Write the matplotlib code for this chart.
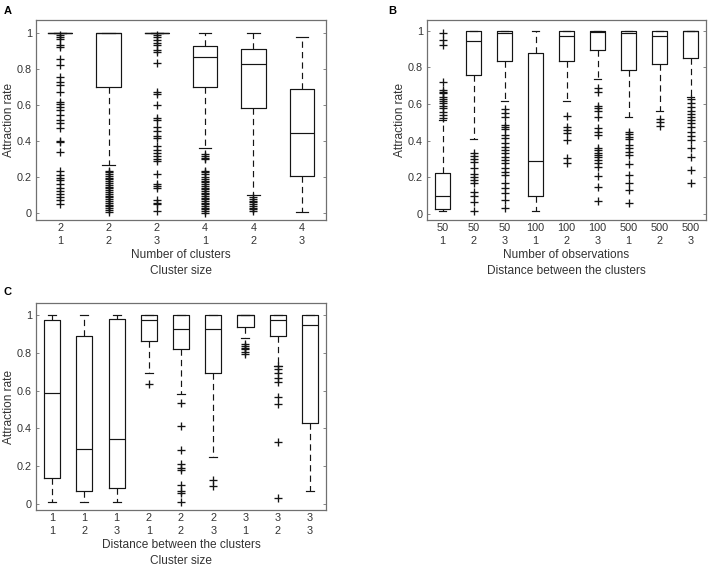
import matplotlib
matplotlib.use("Agg")
import matplotlib.pyplot as plt

plt.rcParams['font.family'] = ['Liberation Sans', 'DejaVu Sans']
plt.rcParams['lines.scale_dashes'] = False

# ---------------- Panel A ----------------
A_labels = ["2\n1", "2\n2", "2\n3", "4\n1", "4\n2", "4\n3"]
A_q1 = [1.0, 0.702, 1.0, 0.702, 0.583, 0.207]
A_med = [1.0, 1.0, 1.0, 0.870, 0.832, 0.445]
A_q3 = [1.0, 1.0, 1.0, 0.929, 0.911, 0.693]
A_wlo = [1.0, 0.266, 1.0, 0.365, 0.100, 0.007]
A_whi = [1.0, 1.0, 1.0, 1.0, 1.0, 0.981]
A_out = [
    [0.991, 0.978, 0.967, 0.935, 0.926, 0.860, 0.823, 0.758, 0.730, 0.711, 0.674,
     0.618, 0.609, 0.590, 0.572, 0.544, 0.520, 0.501, 0.475, 0.404, 0.395, 0.343,
     0.237, 0.214, 0.199, 0.184, 0.162, 0.143, 0.125, 0.106, 0.091, 0.073, 0.050],
    [0.237, 0.228, 0.219, 0.208, 0.199, 0.188, 0.178, 0.169, 0.158, 0.149, 0.139,
     0.128, 0.119, 0.109, 0.098, 0.088, 0.079, 0.068, 0.058, 0.049, 0.039, 0.029,
     0.019, 0.010],
    [0.991, 0.978, 0.963, 0.948, 0.935, 0.907, 0.898, 0.836, 0.674, 0.661, 0.600,
     0.527, 0.516, 0.479, 0.456, 0.428, 0.419, 0.372, 0.354, 0.335, 0.317, 0.304,
     0.289, 0.218, 0.162, 0.153, 0.143, 0.073, 0.060, 0.050, 0.013],
    [0.330, 0.320, 0.310, 0.300, 0.237, 0.227, 0.218, 0.200, 0.190, 0.181, 0.172,
     0.162, 0.153, 0.143, 0.134, 0.125, 0.115, 0.106, 0.097, 0.087, 0.078, 0.069,
     0.059, 0.050, 0.041, 0.031, 0.022, 0.013, 0.004],
    [0.090, 0.080, 0.071, 0.061, 0.051, 0.042, 0.032, 0.022, 0.012],
    [],
]
A_xlabel = "Number of clusters\nCluster size"

# ---------------- Panel B ----------------
B_labels = ["50\n1", "50\n2", "50\n3", "100\n1", "100\n2", "100\n3", "500\n1", "500\n2", "500\n3"]
B_q1 = [0.027, 0.758, 0.836, 0.096, 0.836, 0.895, 0.785, 0.816, 0.853]
B_med = [0.098, 0.945, 0.985, 0.291, 0.973, 0.993, 0.985, 0.971, 0.996]
B_q3 = [0.222, 1.0, 1.0, 0.880, 1.0, 1.0, 1.0, 1.0, 1.0]
B_wlo = [0.016, 0.409, 0.618, 0.016, 0.618, 0.736, 0.531, 0.562, 0.636]
B_whi = [0.513, 1.0, 1.0, 1.0, 1.0, 1.0, 1.0, 1.0, 1.0]
B_out = [
    [0.987, 0.949, 0.922, 0.722, 0.676, 0.667, 0.658, 0.640, 0.625, 0.618, 0.604,
     0.589, 0.576, 0.558, 0.540, 0.522],
    [0.331, 0.316, 0.298, 0.285, 0.253, 0.216, 0.200, 0.185, 0.171, 0.122, 0.098,
     0.065, 0.018],
    [0.571, 0.549, 0.531, 0.485, 0.476, 0.462, 0.431, 0.413, 0.385, 0.367, 0.349,
     0.335, 0.313, 0.295, 0.276, 0.249, 0.231, 0.213, 0.167, 0.140, 0.113, 0.076, 0.031],
    [],
    [0.535, 0.473, 0.458, 0.440, 0.404, 0.305, 0.278],
    [0.685, 0.667, 0.589, 0.576, 0.564, 0.531, 0.467, 0.449, 0.431, 0.358, 0.349,
     0.335, 0.322, 0.309, 0.295, 0.276, 0.258, 0.207, 0.149, 0.071],
    [0.449, 0.436, 0.422, 0.409, 0.376, 0.358, 0.340, 0.322, 0.273, 0.213, 0.167,
     0.131, 0.062],
    [0.518, 0.504, 0.480],
    [0.625, 0.607, 0.582, 0.564, 0.545, 0.531, 0.513, 0.495, 0.476, 0.449, 0.425,
     0.404, 0.358, 0.313, 0.240, 0.167],
]
B_xlabel = "Number of observations\nDistance between the clusters"

# ---------------- Panel C ----------------
C_labels = ["1\n1", "1\n2", "1\n3", "2\n1", "2\n2", "2\n3", "3\n1", "3\n2", "3\n3"]
C_q1 = [0.136, 0.071, 0.083, 0.862, 0.820, 0.693, 0.938, 0.889, 0.429]
C_med = [0.588, 0.292, 0.346, 0.972, 0.926, 0.924, 0.998, 0.972, 0.947]
C_q3 = [0.973, 0.889, 0.981, 1.0, 1.0, 1.0, 1.0, 1.0, 1.0]
C_wlo = [0.011, 0.011, 0.011, 0.694, 0.584, 0.249, 0.880, 0.733, 0.071]
C_whi = [1.0, 1.0, 1.0, 1.0, 1.0, 1.0, 1.0, 1.0, 1.0]
C_out = [
    [], [], [],
    [0.633],
    [0.533, 0.415, 0.285, 0.210, 0.192, 0.181, 0.101, 0.069, 0.060, 0.010],
    [0.127, 0.097],
    [0.845, 0.836, 0.827, 0.818, 0.804, 0.792],
    [0.731, 0.713, 0.696, 0.666, 0.645, 0.564, 0.528, 0.327, 0.030],
    [],
]
C_xlabel = "Distance between the clusters\nCluster size"

yticks = [0, 0.2, 0.4, 0.6, 0.8, 1.0]
yticklabels = ["0", "0.2", "0.4", "0.6", "0.8", "1"]

TEXT = '#333333'
SPINE = '#707070'
LINE = '#151515'

W, H = 708, 569
fig = plt.figure(figsize=(W / 100, H / 100), dpi=100)


def px_axes(left, top, right, bottom):
    return fig.add_axes([left / W, 1 - bottom / H, (right - left) / W, (bottom - top) / H])


def draw(ax, labels, q1, med, q3, wlo, whi, out, xlabel, ylim):
    stats = []
    for i in range(len(labels)):
        stats.append(dict(q1=q1[i], med=med[i], q3=q3[i], whislo=wlo[i],
                          whishi=whi[i], fliers=out[i]))
    pos = list(range(1, len(labels) + 1))
    ax.bxp(stats, positions=pos, widths=0.5, capwidths=0.25, showfliers=True,
           boxprops=dict(color=LINE, linewidth=0.85),
           medianprops=dict(color=LINE, linewidth=0.85),
           whiskerprops=dict(color=LINE, linewidth=0.85, linestyle=(0, (4.5, 3.0))),
           capprops=dict(color=LINE, linewidth=0.85),
           flierprops=dict(marker='+', markersize=6, markeredgecolor=LINE,
                           markeredgewidth=0.95, linestyle='none'))
    ax.set_xlim(0.5, len(labels) + 0.5)
    ax.set_ylim(*ylim)
    ax.set_xticks(pos)
    ax.set_xticklabels(labels, fontsize=7.8, color=TEXT, linespacing=1.3)
    ax.set_yticks(yticks)
    ax.set_yticklabels(yticklabels, fontsize=7.8, color=TEXT)
    ax.tick_params(axis='x', length=0, pad=2.5)
    ax.tick_params(axis='y', direction='in', length=2.5, width=0.6, color=SPINE,
                   right=True, pad=3)
    for s in ax.spines.values():
        s.set_color(SPINE)
        s.set_linewidth(0.9)
    ax.set_xlabel(xlabel, fontsize=8.6, color=TEXT, linespacing=1.45, labelpad=2.5)
    ax.set_ylabel("Attraction rate", fontsize=8.6, color=TEXT, labelpad=1.5)


axA = px_axes(36, 20, 326, 220)
draw(axA, A_labels, A_q1, A_med, A_q3, A_wlo, A_whi, A_out, A_xlabel, (-0.037, 1.074))

axB = px_axes(427, 20, 706, 220)
draw(axB, B_labels, B_q1, B_med, B_q3, B_wlo, B_whi, B_out, B_xlabel, (-0.033, 1.058))

axC = px_axes(36, 303, 326, 510)
draw(axC, C_labels, C_q1, C_med, C_q3, C_wlo, C_whi, C_out, C_xlabel, (-0.032, 1.064))

fig.text(4 / W, 1 - 11 / H, "A", fontsize=8, fontweight='bold', va='center', ha='left')
fig.text(388 / W, 1 - 11 / H, "B", fontsize=8, fontweight='bold', va='center', ha='left')
fig.text(4 / W, 1 - 292 / H, "C", fontsize=8, fontweight='bold', va='center', ha='left')

fig.savefig("out.png", dpi=100)
